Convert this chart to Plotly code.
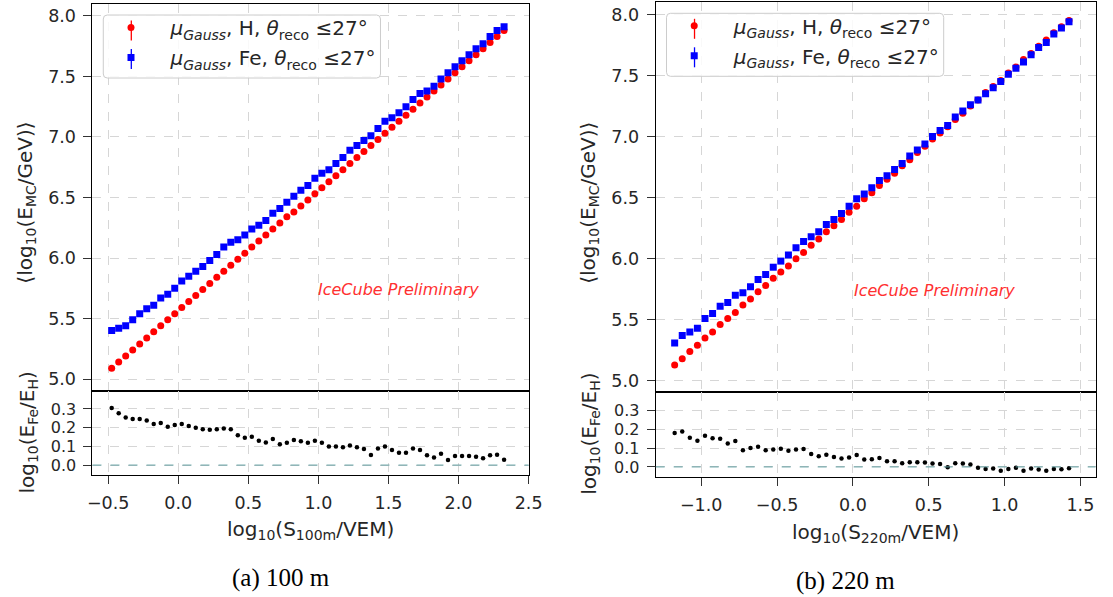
import plotly.graph_objects as go

W, H = 1113, 597

# ---------------- data: 100 m ----------------
s100 = [-0.475, -0.425, -0.375, -0.325, -0.275, -0.225, -0.175, -0.125, -0.075, -0.025,
        0.025, 0.075, 0.125, 0.175, 0.225, 0.275, 0.325, 0.375, 0.425, 0.475,
        0.525, 0.575, 0.625, 0.675, 0.725, 0.775, 0.825, 0.875, 0.925, 0.975,
        1.025, 1.075, 1.125, 1.175, 1.225, 1.275, 1.325, 1.375, 1.425, 1.475,
        1.525, 1.575, 1.625, 1.675, 1.725, 1.775, 1.825, 1.875, 1.925, 1.975,
        2.025, 2.075, 2.125, 2.175, 2.225, 2.275, 2.325]
h100 = [5.09, 5.14, 5.19, 5.24, 5.29, 5.34, 5.39, 5.44, 5.49, 5.54,
        5.59, 5.64, 5.69, 5.74, 5.79, 5.84, 5.89, 5.94, 5.99, 6.04,
        6.09, 6.14, 6.19, 6.24, 6.29, 6.34, 6.38, 6.43, 6.48, 6.53,
        6.58, 6.63, 6.68, 6.73, 6.78, 6.83, 6.88, 6.93, 6.98, 7.03,
        7.08, 7.13, 7.18, 7.23, 7.28, 7.33, 7.38, 7.43, 7.48, 7.53,
        7.58, 7.63, 7.68, 7.73, 7.78, 7.83, 7.88]
fe100 = [5.40, 5.42, 5.44, 5.49, 5.54, 5.58, 5.61, 5.67, 5.70, 5.75,
         5.81, 5.85, 5.89, 5.93, 5.98, 6.03, 6.09, 6.13, 6.15, 6.19,
         6.24, 6.27, 6.31, 6.37, 6.41, 6.46, 6.51, 6.56, 6.60, 6.66,
         6.70, 6.73, 6.78, 6.83, 6.89, 6.93, 6.97, 7.01, 7.07, 7.13,
         7.16, 7.20, 7.25, 7.31, 7.36, 7.38, 7.42, 7.48, 7.53, 7.58,
         7.63, 7.68, 7.73, 7.77, 7.83, 7.88, 7.91]
r100 = [0.305, 0.277, 0.254, 0.246, 0.246, 0.238, 0.220, 0.225, 0.205, 0.214,
        0.220, 0.209, 0.200, 0.191, 0.189, 0.191, 0.196, 0.191, 0.159, 0.146,
        0.152, 0.130, 0.121, 0.139, 0.111, 0.120, 0.134, 0.127, 0.120, 0.130,
        0.120, 0.100, 0.100, 0.095, 0.105, 0.095, 0.086, 0.054, 0.089, 0.100,
        0.080, 0.066, 0.066, 0.088, 0.080, 0.052, 0.041, 0.061, 0.027, 0.048,
        0.048, 0.048, 0.045, 0.036, 0.052, 0.055, 0.029]

# ---------------- data: 220 m ----------------
s220 = [-1.175, -1.125, -1.075, -1.025, -0.975, -0.925, -0.875, -0.825, -0.775, -0.725,
        -0.675, -0.625, -0.575, -0.525, -0.475, -0.425, -0.375, -0.325, -0.275, -0.225,
        -0.175, -0.125, -0.075, -0.025, 0.025, 0.075, 0.125, 0.175, 0.225, 0.275,
        0.325, 0.375, 0.425, 0.475, 0.525, 0.575, 0.625, 0.675, 0.725, 0.775,
        0.825, 0.875, 0.925, 0.975, 1.025, 1.075, 1.125, 1.175, 1.225, 1.275,
        1.325, 1.375, 1.425]
h220 = [5.13, 5.18, 5.24, 5.29, 5.35, 5.40, 5.46, 5.51, 5.56, 5.62,
        5.67, 5.73, 5.78, 5.84, 5.89, 5.94, 6.00, 6.05, 6.11, 6.16,
        6.22, 6.27, 6.32, 6.38, 6.43, 6.49, 6.54, 6.60, 6.65, 6.70,
        6.76, 6.81, 6.87, 6.92, 6.98, 7.03, 7.08, 7.14, 7.19, 7.25,
        7.30, 7.36, 7.41, 7.46, 7.52, 7.57, 7.63, 7.68, 7.74, 7.79,
        7.85, 7.90, 7.95]
fe220 = [5.31, 5.37, 5.40, 5.43, 5.51, 5.55, 5.61, 5.64, 5.70, 5.72,
         5.77, 5.83, 5.87, 5.93, 5.98, 6.03, 6.09, 6.14, 6.18, 6.22,
         6.28, 6.32, 6.37, 6.43, 6.49, 6.53, 6.58, 6.64, 6.68, 6.73,
         6.78, 6.84, 6.89, 6.94, 7.00, 7.05, 7.09, 7.16, 7.21, 7.26,
         7.30, 7.35, 7.40, 7.45, 7.51, 7.56, 7.61, 7.67, 7.73, 7.77,
         7.84, 7.89, 7.94]
r220 = [0.180, 0.188, 0.155, 0.139, 0.166, 0.152, 0.150, 0.125, 0.138, 0.088,
        0.100, 0.107, 0.089, 0.093, 0.096, 0.086, 0.093, 0.095, 0.068, 0.057,
        0.064, 0.052, 0.045, 0.050, 0.063, 0.039, 0.041, 0.048, 0.030, 0.030,
        0.020, 0.025, 0.025, 0.023, 0.018, 0.016, -0.002, 0.020, 0.018, 0.013,
        -0.004, -0.011, -0.009, -0.020, -0.011, -0.005, -0.020, -0.009, -0.014, -0.021,
        -0.011, -0.013, -0.007]

label_H = "<i>μ</i><sub><i>Gauss</i></sub>, H, <i>θ</i><sub>reco</sub> ≤27°"
label_Fe = "<i>μ</i><sub><i>Gauss</i></sub>, Fe, <i>θ</i><sub>reco</sub> ≤27°"
xtitle100 = "log<sub>10</sub>(S<sub>100m</sub>/VEM)"
xtitle220 = "log<sub>10</sub>(S<sub>220m</sub>/VEM)"
ytitle_top = "⟨log<sub>10</sub>(E<sub>MC</sub>/GeV)⟩"
ytitle_bot = "log<sub>10</sub>(E<sub>Fe</sub>/E<sub>H</sub>)"
captions = ["(a) 100 m", "(b) 220 m"]
watermark = "IceCube Preliminary"

RED = "#ff0000"
BLUE = "#0000ff"
FONT = "DejaVu Sans"
TXT = "#262626"

fig = go.Figure()

# left panel
fig.add_trace(go.Scatter(x=s100, y=h100, mode="markers", name=label_H,
                         marker=dict(symbol="circle", size=7, color=RED),
                         xaxis="x", yaxis="y", legend="legend", legendgroup="h1"))
fig.add_trace(go.Scatter(x=s100, y=fe100, mode="markers", name=label_Fe,
                         marker=dict(symbol="square", size=7, color=BLUE),
                         xaxis="x", yaxis="y", legend="legend", legendgroup="f1"))
fig.add_trace(go.Scatter(x=s100, y=r100, mode="markers", showlegend=False,
                         marker=dict(symbol="circle", size=4.5, color="black"),
                         xaxis="x2", yaxis="y2"))
# right panel
fig.add_trace(go.Scatter(x=s220, y=h220, mode="markers", name=label_H,
                         marker=dict(symbol="circle", size=7, color=RED),
                         xaxis="x3", yaxis="y3", legend="legend2", legendgroup="h2"))
fig.add_trace(go.Scatter(x=s220, y=fe220, mode="markers", name=label_Fe,
                         marker=dict(symbol="square", size=7, color=BLUE),
                         xaxis="x3", yaxis="y3", legend="legend2", legendgroup="f2"))
fig.add_trace(go.Scatter(x=s220, y=r220, mode="markers", showlegend=False,
                         marker=dict(symbol="circle", size=4.5, color="black"),
                         xaxis="x4", yaxis="y4"))


def px_x(p):
    return p / W


def px_y(p):
    return 1 - p / H


ax = dict(showline=True, linecolor="black", linewidth=1, mirror=True,
          showgrid=True, gridcolor="#d6d6d6", griddash="dash", gridwidth=1,
          zeroline=False, ticks="outside", ticklen=8, tickwidth=1, tickcolor="#333333",
          tickfont=dict(family=FONT, size=17.5, color=TXT), tickformat=".1f",
          ticklabelstandoff=4)

L_dom = [px_x(89), px_x(532.7)]
R_dom = [px_x(662), px_x(1109.5)]

leg = dict(xanchor="left", yanchor="top",
           bgcolor="rgba(0,0,0,0)", borderwidth=0, tracegroupgap=1,
           font=dict(family=FONT, size=20, color=TXT), itemwidth=69)

fig.update_layout(
    width=W, height=H,
    margin=dict(l=0, r=0, t=0, b=0),
    paper_bgcolor="white", plot_bgcolor="white",
    font=dict(family=FONT, color=TXT, size=16),
    xaxis=dict(ax, domain=L_dom, range=[-0.612, 2.5], dtick=0.5, tick0=0,
               showticklabels=False, ticks="", anchor="y"),
    yaxis=dict(ax, domain=[px_y(391), px_y(4)], range=[4.901, 8.099], dtick=0.5, tick0=0,
               anchor="x"),
    xaxis2=dict(ax, domain=L_dom, range=[-0.612, 2.5], dtick=0.5, tick0=0, anchor="y2"),
    yaxis2=dict(ax, domain=[px_y(475), px_y(391)], range=[-0.053, 0.396], dtick=0.1, tick0=0,
                anchor="x2", tickfont=dict(family=FONT, size=16, color=TXT)),
    xaxis3=dict(ax, domain=R_dom, range=[-1.30, 1.60], dtick=0.5, tick0=0,
                showticklabels=False, ticks="", anchor="y3"),
    yaxis3=dict(ax, domain=[px_y(392), px_y(1.5)], range=[4.908, 8.106], dtick=0.5, tick0=0,
                anchor="x3"),
    xaxis4=dict(ax, domain=R_dom, range=[-1.30, 1.60], dtick=0.5, tick0=0, anchor="y4"),
    yaxis4=dict(ax, domain=[px_y(476.7), px_y(392)], range=[-0.052, 0.398], dtick=0.1, tick0=0,
                anchor="x4", tickfont=dict(family=FONT, size=16, color=TXT)),
    legend=dict(leg, x=px_x(88), y=px_y(8)),
    legend2=dict(leg, x=px_x(661), y=px_y(6.3)),
    showlegend=True,
)

# zero reference lines in ratio panels
for xr, yr in (("x2", "y2"), ("x4", "y4")):
    fig.add_shape(type="line", xref=f"{xr} domain", yref=yr, x0=0, x1=1, y0=0, y1=0,
                  line=dict(color="#5f9ea0", width=1, dash="dash"))


# legend frames (rounded boxes) with error-bar strokes for legend symbols
def rounded_box(x0, y0, x1, y1, r=4):
    X = lambda p: px_x(p)
    Y = lambda p: px_y(p)
    return (f"M {X(x0 + r)} {Y(y0)} L {X(x1 - r)} {Y(y0)} Q {X(x1)} {Y(y0)} {X(x1)} {Y(y0 + r)} "
            f"L {X(x1)} {Y(y1 - r)} Q {X(x1)} {Y(y1)} {X(x1 - r)} {Y(y1)} "
            f"L {X(x0 + r)} {Y(y1)} Q {X(x0)} {Y(y1)} {X(x0)} {Y(y1 - r)} "
            f"L {X(x0)} {Y(y0 + r)} Q {X(x0)} {Y(y0)} {X(x0 + r)} {Y(y0)} Z")


for dx, dy in ((0, 0), (573, -1.7)):
    fig.add_shape(type="path", xref="paper", yref="paper", layer="above",
                  path=rounded_box(100 + dx, 15 + dy, 382 + dx, 78 + dy),
                  fillcolor="rgba(255,255,255,0.85)", line=dict(color="#cccccc", width=1))
    for yc, col in ((30.5 + dy, RED), (59 + dy, BLUE)):
        fig.add_shape(type="line", xref="paper", yref="paper", layer="above",
                      x0=px_x(128.5 + dx), x1=px_x(128.5 + dx), y0=px_y(yc - 10), y1=px_y(yc + 10),
                      line=dict(color=col, width=1.3))

ann = []
# y titles
ann.append(dict(text=ytitle_top, x=px_x(21), y=px_y(203), textangle=-90))
ann.append(dict(text=ytitle_bot, x=px_x(23), y=px_y(433), textangle=-90))
ann.append(dict(text=ytitle_top, x=px_x(594), y=px_y(203), textangle=-90))
ann.append(dict(text=ytitle_bot, x=px_x(595), y=px_y(434), textangle=-90))
# x titles
ann.append(dict(text=xtitle100, x=px_x(311), y=px_y(530)))
ann.append(dict(text=xtitle220, x=px_x(886), y=px_y(533)))
for a in ann:
    a.update(xref="paper", yref="paper", showarrow=False, xanchor="center", yanchor="middle",
             font=dict(family=FONT, size=20, color=TXT))
# captions
caps = [dict(text=captions[0], x=px_x(281), y=px_y(578)),
        dict(text=captions[1], x=px_x(855), y=px_y(581))]
for c in caps:
    c.update(xref="paper", yref="paper", showarrow=False, xanchor="center", yanchor="middle",
             font=dict(family="Liberation Serif", size=25, color="black"))
# watermark
wm = [dict(text=f"<i>{watermark}</i>", x=1.57, y=5.74, xref="x", yref="y"),
      dict(text=f"<i>{watermark}</i>", x=0.54, y=5.74, xref="x3", yref="y3")]
for w in wm:
    w.update(showarrow=False, xanchor="center", yanchor="middle",
             font=dict(family=FONT, size=16, color="#ff3030"))

fig.update_layout(annotations=ann + caps + wm)

fig.write_html("out.html", config={"displayModeBar": False},
               post_script="document.body.style.margin='0';document.body.style.overflow='hidden';")
